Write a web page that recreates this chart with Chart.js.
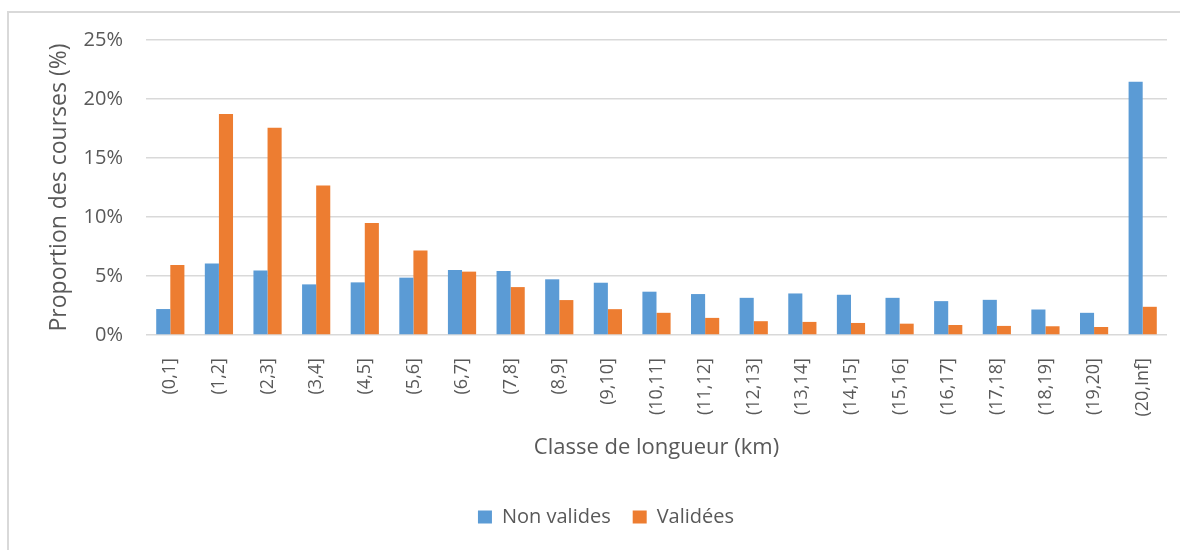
<!DOCTYPE html>
<html>
<head>
<meta charset="utf-8">
<script src="https://cdn.jsdelivr.net/npm/chart.js@4.4.1/dist/chart.umd.min.js"></script>
<style>
  html, body { margin: 0; padding: 0; background: #fff; overflow: hidden; }
  #wrap { position: relative; width: 1180px; height: 550px; }
  #frame { position: absolute; left: 7px; top: 11px; width: 1300px; height: 700px; border: 2px solid #d9d9d9; box-sizing: border-box; }
  canvas { position: absolute; left: 0; top: 0; }
</style>
</head>
<body>
<div id="wrap">
  <div id="frame"></div>
  <canvas id="c" width="1180" height="550"></canvas>
</div>
<script>
// Classes de longueur et proportions (%)
const categories = ['(0,1]', '(1,2]', '(2,3]', '(3,4]', '(4,5]', '(5,6]', '(6,7]', '(7,8]', '(8,9]', '(9,10]',
  '(10,11]', '(11,12]', '(12,13]', '(13,14]', '(14,15]', '(15,16]', '(16,17]', '(17,18]', '(18,19]', '(19,20]', '(20,Inf]']
const nonValides = [2.2, 6.05, 5.46, 4.29, 4.46, 4.86, 5.51, 5.43, 4.72, 4.43,
  3.67, 3.47, 3.15, 3.52, 3.41, 3.15, 2.87, 2.98, 2.16, 1.88, 21.46]
const validees = [5.94, 18.73, 17.56, 12.67, 9.49, 7.16, 5.37, 4.06, 2.96, 2.19,
  1.88, 1.45, 1.17, 1.11, 1.02, 0.96, 0.85, 0.77, 0.74, 0.68, 2.39]
const yTicks = [0, 5, 10, 15, 20, 25]

const FONT = 'Open Sans'
const TEXT = '#595959'

new Chart(document.getElementById('c'), {
  type: 'bar',
  data: {
    labels: categories,
    datasets: [
      { label: 'Non valides', data: nonValides, backgroundColor: '#5B9BD5', borderWidth: 0 },
      { label: 'Validées', data: validees, backgroundColor: '#ED7D31', borderWidth: 0 },
    ],
  },
  options: {
    responsive: false,
    animation: false,
    layout: { padding: { left: 45, right: 13, top: 40, bottom: 13 } },
    datasets: { bar: { categoryPercentage: 0.58, barPercentage: 1 } },
    scales: {
      x: {
        grid: { display: false },
        border: { display: false },
        ticks: {
          color: TEXT, font: { family: FONT, size: 18 }, padding: 15,
          minRotation: 90, maxRotation: 90, autoSkip: false,
        },
        title: {
          display: true, text: 'Classe de longueur (km)', color: TEXT,
          font: { family: FONT, size: 22 }, padding: { top: 0, bottom: 24 },
        },
        afterFit: s => { s.height = 150 },
      },
      y: {
        min: 0, max: 25,
        afterBuildTicks: s => { s.ticks = yTicks.map(v => ({ value: v })) },
        grid: { color: '#d9d9d9', lineWidth: 1.5, drawTicks: false },
        border: { display: false },
        ticks: { color: TEXT, font: { family: FONT, size: 20 }, padding: 23, callback: v => v + '%' },
        title: {
          display: true, text: 'Proportion des courses (%)', color: TEXT,
          font: { family: FONT, size: 23 }, padding: { top: 1, bottom: 0 },
        },
        afterFit: s => { s.width = 101 },
      },
    },
    plugins: {
      legend: {
        position: 'bottom',
        labels: { color: TEXT, font: { family: FONT, size: 20 }, boxWidth: 14, boxHeight: 13, padding: 22 },
      },
      tooltip: { enabled: false },
    },
  },
})
</script>
</body>
</html>
